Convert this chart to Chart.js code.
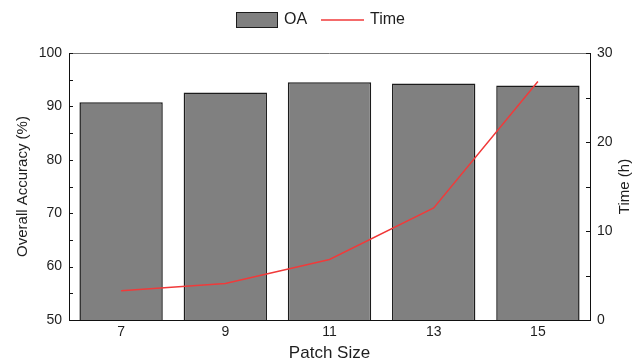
<!DOCTYPE html>
<html>
<head>
<meta charset="utf-8">
<script src="https://cdn.jsdelivr.net/npm/chart.js@4/dist/chart.umd.min.js"></script>
<style>
  html, body { margin: 0; padding: 0; background: #fff; }
  #wrap { width: 634px; height: 364px; }
</style>
</head>
<body>
<div id="wrap"><canvas id="c" width="634" height="364"></canvas></div>
<script>
// Patch size experiment: overall accuracy (bars) and training time (line)
const patchSizes = ['7', '9', '11', '13', '15'];
const oaValues = [90.8, 92.6, 94.5, 94.3, 93.9];
const timeHours = [3.3, 4.1, 6.8, 12.6, 26.8];

const oaTicks = [50, 60, 70, 80, 90, 100];
const timeTicks = [0, 10, 20, 30];

const FONT = '"Liberation Sans", Arial, Helvetica, sans-serif';
const TEXT = '#1e1e1e';
const BAR_FILL = '#808080';
const BAR_EDGE = '#1c1c1c';
const LINE_RED = '#f03a3a';

// Frame extras: top border, inward tick marks, right title, legend
const framePlugin = {
  id: 'frame',
  afterDatasetsDraw(chart) {
    const { ctx, chartArea: a, scales } = chart;
    ctx.save();
    // top border
    ctx.strokeStyle = '#777';
    ctx.lineWidth = 1;
    ctx.beginPath();
    ctx.moveTo(a.left, a.top + 0.5);
    ctx.lineTo(a.right, a.top + 0.5);
    ctx.stroke();

    // inward ticks (major + minor) on both value axes
    ctx.strokeStyle = '#111';
    const yL = scales.y, yR = scales.y1;
    for (let v = yL.min; v <= yL.max + 1e-9; v += 5) {
      const py = Math.round(yL.getPixelForValue(v)) + 0.5;
      ctx.beginPath();
      ctx.moveTo(a.left, py);
      ctx.lineTo(a.left + 4, py);
      ctx.stroke();
    }
    for (let v = yR.min; v <= yR.max + 1e-9; v += 5) {
      const py = Math.round(yR.getPixelForValue(v)) + 0.5;
      ctx.beginPath();
      ctx.moveTo(a.right, py);
      ctx.lineTo(a.right - 4, py);
      ctx.stroke();
    }
    ctx.restore();
  },
  afterDraw(chart) {
    const { ctx, chartArea: a } = chart;
    ctx.save();
    // right axis title, reading bottom to top
    ctx.fillStyle = TEXT;
    ctx.font = '15px ' + FONT;
    ctx.textAlign = 'center';
    ctx.textBaseline = 'middle';
    ctx.translate(625, (a.top + a.bottom) / 2);
    ctx.rotate(-Math.PI / 2);
    ctx.fillText('Time (h)', 0, 0);
    ctx.restore();

    // legend
    ctx.save();
    const ds = chart.data.datasets;
    ctx.font = '16px ' + FONT;
    ctx.textBaseline = 'middle';
    ctx.textAlign = 'left';
    ctx.fillStyle = ds[0].backgroundColor;
    ctx.fillRect(236, 12, 42, 16);
    ctx.strokeStyle = ds[0].borderColor;
    ctx.lineWidth = 1;
    ctx.strokeRect(236.5, 12.5, 41, 15);
    ctx.fillStyle = TEXT;
    ctx.fillText(ds[0].label, 284, 20);
    ctx.strokeStyle = ds[1].borderColor;
    ctx.lineWidth = 1.5;
    ctx.beginPath();
    ctx.moveTo(321, 20);
    ctx.lineTo(364, 20);
    ctx.stroke();
    ctx.fillText(ds[1].label, 370, 20);
    ctx.restore();
  }
};

new Chart(document.getElementById('c'), {
  type: 'bar',
  data: {
    labels: patchSizes,
    datasets: [
      {
        type: 'bar',
        label: 'OA',
        data: oaValues,
        yAxisID: 'y',
        backgroundColor: BAR_FILL,
        borderColor: BAR_EDGE,
        borderWidth: 1.5,
        categoryPercentage: 0.8,
        barPercentage: 1.0,
        order: 2
      },
      {
        type: 'line',
        label: 'Time',
        data: timeHours,
        yAxisID: 'y1',
        borderColor: LINE_RED,
        backgroundColor: LINE_RED,
        borderWidth: 1.5,
        pointRadius: 0,
        tension: 0,
        fill: false,
        order: 1
      }
    ]
  },
  options: {
    responsive: false,
    animation: false,
    devicePixelRatio: 1,
    layout: { padding: { top: 53, left: 0, right: 0, bottom: 0 } },
    plugins: {
      legend: { display: false },
      tooltip: { enabled: false }
    },
    scales: {
      x: {
        type: 'category',
        offset: true,
        grid: { display: false, drawTicks: false },
        border: { display: true, color: '#111', width: 1 },
        ticks: { color: TEXT, font: { family: FONT, size: 14 }, padding: 4, maxRotation: 0 },
        title: {
          display: true, text: 'Patch Size', color: TEXT,
          font: { family: FONT, size: 17 }, padding: { top: 0, bottom: 0 }
        },
        afterFit(s) { s.height = 44; }
      },
      y: {
        position: 'left',
        min: 50, max: 100,
        afterBuildTicks(s) { s.ticks = oaTicks.map(v => ({ value: v })); },
        grid: { display: false, drawTicks: false },
        border: { display: true, color: '#111', width: 1 },
        ticks: { color: TEXT, font: { family: FONT, size: 14 }, padding: 7 },
        title: {
          display: true, text: 'Overall Accuracy (%)', color: TEXT,
          font: { family: FONT, size: 15 }, padding: { top: 14, bottom: 0 }
        },
        afterFit(s) { s.width = 69; }
      },
      y1: {
        position: 'right',
        min: 0, max: 30,
        afterBuildTicks(s) { s.ticks = timeTicks.map(v => ({ value: v })); },
        grid: { display: false, drawTicks: false },
        border: { display: true, color: '#111', width: 1 },
        ticks: { color: TEXT, font: { family: FONT, size: 14 }, padding: 7 },
        afterFit(s) { s.width = 44; }
      }
    }
  },
  plugins: [framePlugin]
});
</script>
</body>
</html>
